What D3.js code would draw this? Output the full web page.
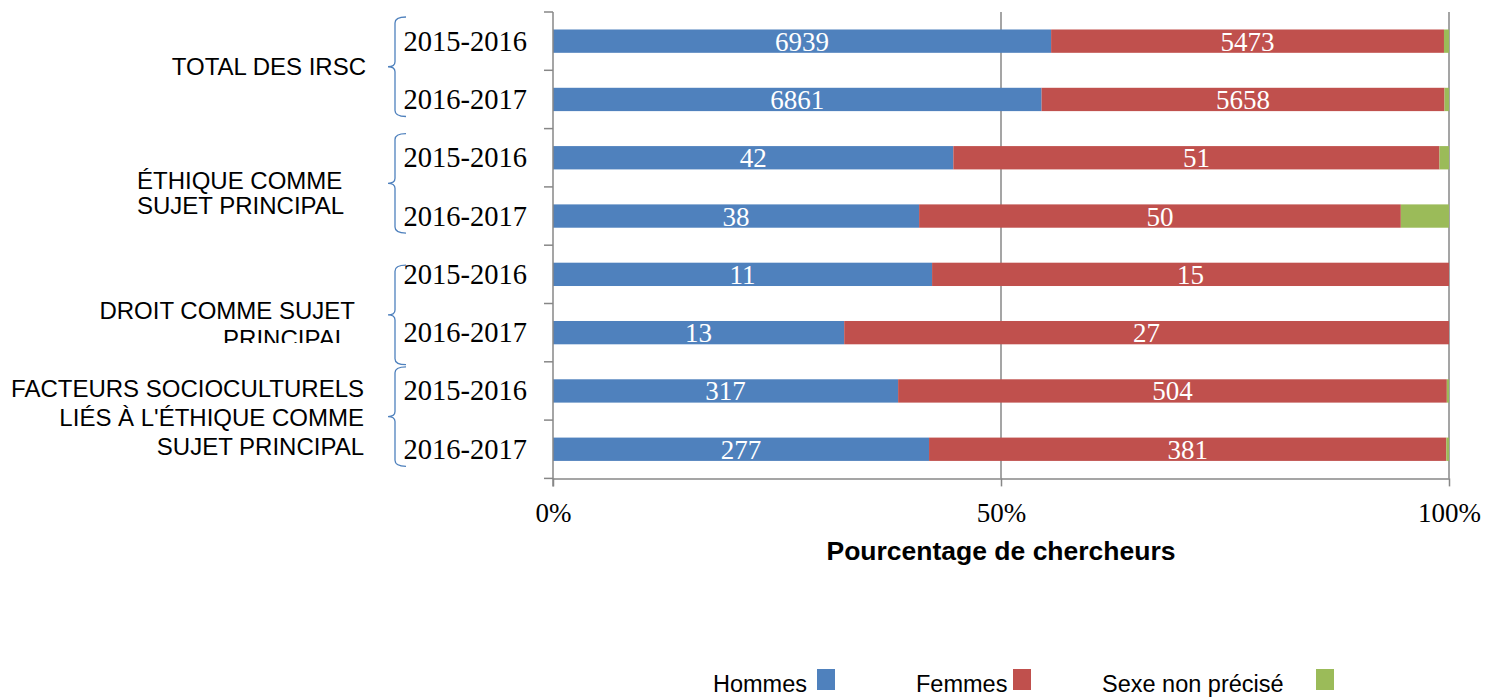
<!DOCTYPE html>
<html>
<head>
<meta charset="utf-8">
<script src="https://cdn.jsdelivr.net/npm/d3@7"></script>
<style>
  body { margin: 0; background: #fff; }
  svg { display: block; }
</style>
</head>
<body>
<script>
"use strict";

// Data

const groupLabels = [
    ["TOTAL DES IRSC"],
    ["ÉTHIQUE COMME", "SUJET PRINCIPAL"],
    ["DROIT COMME SUJET", "PRINCIPAL"],
    ["FACTEURS SOCIOCULTURELS", "LIÉS À L'ÉTHIQUE COMME", "SUJET PRINCIPAL"]
];
const years = ["2015-2016", "2016-2017"];

// one value per bar, in order group by group, year by year
const hommes     = [6939, 6861, 42, 38, 11, 13, 317, 277];
const femmes     = [5473, 5658, 51, 50, 15, 27, 504, 381];
const nonPrecise = [70, 63, 1, 5, 0, 0, 2, 2];

const seriesNames = ["Hommes", "Femmes", "Sexe non précisé"];
const xTicks = [0, 0.5, 1];
const xTitle = "Pourcentage de chercheurs";

// Size parameters

const width = 1486;
const height = 698;
const plotLeft = 553;
const plotRight = 1449;
const plotTop = 12;
const plotBottom = 478.4;
const colors = ["#4f81bd", "#c0504d", "#9bbb59"];
const sansFont = "'Liberation Sans', Arial, sans-serif";
const serifFont = "'Liberation Serif', 'Times New Roman', serif";

// label placement per group (anchor, x per line, baseline per line)
const labelLayout = [
    { anchor: "end",   x: [366],           y: [75] },
    { anchor: "start", x: [137, 137],      y: [189, 214] },
    { anchor: "end",   x: [355, 348],      y: [319, 347] },
    { anchor: "end",   x: [364, 364, 364], y: [397, 426, 455] }
];
const braceShift = [0, 0, 15, 0];
const legendText = [713, 916, 1102];
const legendBox = [817, 1013, 1316];

// Build rows

const rows = [];
groupLabels.forEach((g, gi) => {
    years.forEach((yr, yi) => {
        const i = gi * years.length + yi;
        rows.push({
            id: gi + "|" + yr,
            group: gi,
            year: yr,
            "Hommes": hommes[i],
            "Femmes": femmes[i],
            "Sexe non précisé": nonPrecise[i]
        });
    });
});

const stacked = d3.stack()
    .keys(seriesNames)
    .offset(d3.stackOffsetExpand)(rows);

// Scales

const x = d3.scaleLinear().domain([0, 1]).range([plotLeft, plotRight]);
const y = d3.scaleBand()
    .domain(rows.map(d => d.id))
    .range([plotTop, plotBottom])
    .paddingInner(0.6)
    .paddingOuter(0.3);
const step = y.step();
const groupStep = step * years.length;

const svg = d3.select("body")
    .append("svg")
    .attr("width", width)
    .attr("height", height);

// Gridlines (50% and 100%)

svg.selectAll(".grid")
    .data(xTicks.filter(t => t > 0))
    .enter()
    .append("line")
    .attr("x1", d => x(d))
    .attr("x2", d => x(d))
    .attr("y1", plotTop)
    .attr("y2", plotBottom)
    .attr("stroke", "#878787")
    .attr("stroke-width", 1.5);

// Bars

const layer = svg.selectAll(".series")
    .data(stacked)
    .enter()
    .append("g")
    .attr("fill", (d, i) => colors[i]);

layer.selectAll("rect")
    .data(d => d)
    .enter()
    .append("rect")
    .attr("x", d => x(d[0]))
    .attr("y", d => y(d.data.id))
    .attr("width", d => x(d[1]) - x(d[0]))
    .attr("height", y.bandwidth());

// Value labels (hommes, femmes)

stacked.slice(0, 2).forEach(s => {
    svg.selectAll(null)
        .data(s)
        .enter()
        .append("text")
        .attr("x", d => (x(d[0]) + x(d[1])) / 2)
        .attr("y", d => y(d.data.id) + y.bandwidth() / 2 + 9.5)
        .attr("text-anchor", "middle")
        .attr("fill", "#fff")
        .style("font-family", serifFont)
        .style("font-size", "27px")
        .text(d => d.data[s.key]);
});

// Vertical axis with ticks between categories

svg.append("line")
    .attr("x1", plotLeft).attr("x2", plotLeft)
    .attr("y1", plotTop).attr("y2", plotBottom + 8)
    .attr("stroke", "#878787")
    .attr("stroke-width", 1.5);

svg.selectAll(".ytick")
    .data(d3.range(rows.length + 1))
    .enter()
    .append("line")
    .attr("x1", plotLeft - 9)
    .attr("x2", plotLeft)
    .attr("y1", i => plotTop + i * step)
    .attr("y2", i => plotTop + i * step)
    .attr("stroke", "#878787")
    .attr("stroke-width", 1.5);

// Horizontal axis

const xAxis = svg.append("g")
    .attr("transform", `translate(0,${plotBottom})`)
    .call(d3.axisBottom(x)
        .tickValues(xTicks)
        .tickFormat(d3.format(".0%"))
        .tickSize(8)
        .tickSizeOuter(0)
        .tickPadding(16));

xAxis.select(".domain").attr("stroke", "#878787").attr("stroke-width", 1.5);
xAxis.selectAll(".tick line").attr("stroke", "#878787").attr("stroke-width", 1.5);
xAxis.selectAll(".tick text")
    .attr("fill", "#000")
    .style("font-family", serifFont)
    .style("font-size", "27px");

svg.append("text")
    .attr("x", (plotLeft + plotRight) / 2)
    .attr("y", 560)
    .attr("text-anchor", "middle")
    .style("font-family", sansFont)
    .style("font-size", "26.5px")
    .style("font-weight", "bold")
    .text(xTitle);

// Year labels

svg.selectAll(".year")
    .data(rows)
    .enter()
    .append("text")
    .attr("x", 527)
    .attr("y", d => y(d.id) + y.bandwidth() / 2 + 9.5)
    .attr("text-anchor", "end")
    .style("font-family", serifFont)
    .style("font-size", "28.5px")
    .text(d => d.year);

// Braces

svg.selectAll(".brace")
    .data(groupLabels)
    .enter()
    .append("path")
    .attr("d", (d, i) => {
        const top = plotTop + i * groupStep + 5 + braceShift[i];
        const bot = top + 99.5;
        const mid = (top + bot) / 2;
        return `M406,${top} Q395,${top} 395,${top + 6}
                L395,${mid - 5} Q395,${mid} 388,${mid}
                Q395,${mid} 395,${mid + 5}
                L395,${bot - 6} Q395,${bot} 406,${bot}`;
    })
    .attr("fill", "none")
    .attr("stroke", "#4f81bd")
    .attr("stroke-width", 1.3);

// Group labels

svg.append("clipPath")
    .attr("id", "label-clip")
    .append("rect")
    .attr("x", 0).attr("y", 0)
    .attr("width", 380).attr("height", 343);

groupLabels.forEach((lines, gi) => {
    const lay = labelLayout[gi];
    svg.append("text")
        .attr("text-anchor", lay.anchor)
        .attr("clip-path", gi === 2 ? "url(#label-clip)" : null)
        .style("font-family", sansFont)
        .style("font-size", "24px")
        .selectAll("tspan")
        .data(lines)
        .enter()
        .append("tspan")
        .attr("x", (d, i) => lay.x[i])
        .attr("y", (d, i) => lay.y[i])
        .text(d => d);
});

// Legend

const legend = svg.selectAll(".legend")
    .data(seriesNames)
    .enter()
    .append("g");

legend.append("text")
    .attr("x", (d, i) => legendText[i])
    .attr("y", 692)
    .style("font-family", sansFont)
    .style("font-size", "23.5px")
    .text(d => d);

legend.append("rect")
    .attr("x", (d, i) => legendBox[i])
    .attr("y", 669)
    .attr("width", 18)
    .attr("height", 21)
    .attr("fill", (d, i) => colors[i]);
</script>
</body>
</html>
